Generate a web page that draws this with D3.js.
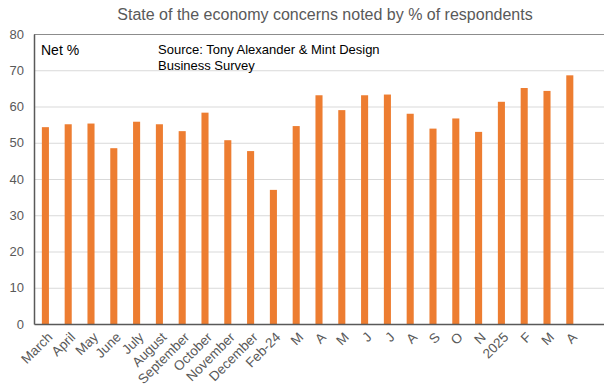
<!DOCTYPE html>
<html><head><meta charset="utf-8">
<script src="https://cdn.jsdelivr.net/npm/d3@7"></script>
<style>body{margin:0;background:#fff}svg{display:block}text{font-family:"Liberation Sans",Arial,sans-serif}</style>
</head><body><svg id="c" width="604" height="392"></svg>
<script>
const categories = ["March","April","May","June","July","August","September","October","November","December","Feb-24","M","A","M","J","J","A","S","O","N","2025","F","M","A",""];
const values = [54.3,55.1,55.3,48.5,55.8,55.1,53.2,58.3,50.7,47.7,37.0,54.6,63.1,59.0,63.1,63.3,58.0,53.9,56.7,53.0,61.3,65.1,64.3,68.6,null];
const yTicks = [0,10,20,30,40,50,60,70,80];

const svg = d3.select("#c");
const L=34, R=604, T=34, B=324;
const x = d3.scaleBand().domain(d3.range(categories.length)).range([L,R]).paddingInner(0.69).paddingOuter(0.345);
const y = d3.scaleLinear().domain([0,80]).range([B,T]);

// gridlines
svg.append("g").selectAll("line").data(yTicks.filter(t=>t>0&&t<80)).join("line")
  .attr("x1",L).attr("x2",R).attr("y1",d=>y(d)+0.5).attr("y2",d=>y(d)+0.5)
  .attr("stroke","#d9d9d9").attr("stroke-width",1);
// top border
svg.append("line").attr("x1",L).attr("x2",R).attr("y1",y(80)+0.5).attr("y2",y(80)+0.5).attr("stroke","#8c8c8c").attr("stroke-width",1.2);

// bars
svg.append("g").selectAll("rect").data(values.map((v,i)=>({v,i})).filter(d=>d.v!=null)).join("rect")
  .attr("x",d=>x(d.i)).attr("width",x.bandwidth())
  .attr("y",d=>y(d.v)).attr("height",d=>y(0)-y(d.v))
  .attr("fill","#ED7D31");

// axes
const ya = svg.append("g").attr("transform",`translate(${L},0)`)
  .call(d3.axisLeft(y).tickValues(yTicks).tickSize(0).tickPadding(10));
ya.select(".domain").attr("stroke","#595959").attr("stroke-width",1.5);
ya.selectAll("text").attr("font-size",13).attr("fill","#595959").attr("font-family","Liberation Sans, Arial, sans-serif");

const xa = svg.append("g").attr("transform",`translate(0,${B})`)
  .call(d3.axisBottom(x).tickFormat(i=>categories[i]).tickSize(0));
xa.select(".domain").attr("stroke","#595959").attr("stroke-width",1.5);
xa.selectAll("text").attr("font-size",13.5).attr("fill","#595959").attr("font-family","Liberation Sans, Arial, sans-serif")
  .attr("text-anchor","end").attr("dy",null).attr("y",0)
  .attr("transform","translate(8,14) rotate(-45)");

// title
svg.append("text").attr("x",325).attr("y",20).attr("text-anchor","middle")
  .attr("font-size",16).attr("fill","#595959").text("State of the economy concerns noted by % of respondents");
svg.append("text").attr("x",41).attr("y",55).attr("font-size",14).attr("fill","#000").text("Net %");
svg.append("text").attr("x",158).attr("y",54).attr("font-size",13).attr("fill","#000").text("Source: Tony Alexander  & Mint Design");
svg.append("text").attr("x",158).attr("y",70).attr("font-size",13).attr("fill","#000").text("Business Survey");
</script></body></html>
